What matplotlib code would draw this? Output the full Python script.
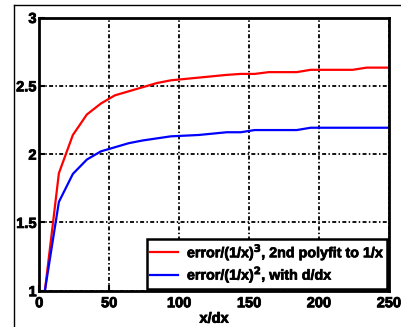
import matplotlib
matplotlib.use("Agg")
import matplotlib.pyplot as plt
from matplotlib.lines import Line2D
import matplotlib.patheffects as pe

x_vals = [4, 14, 24, 34, 44, 54, 64, 74, 84, 94, 104, 114, 124, 134, 144, 154,
          164, 174, 184, 194, 204, 214, 224, 234, 244, 254]
red_vals = [1.0, 1.86, 2.14, 2.29, 2.37, 2.43, 2.46, 2.49, 2.52, 2.54, 2.55, 2.56,
            2.57, 2.58, 2.587, 2.587, 2.60, 2.60, 2.60, 2.617, 2.617, 2.617, 2.617,
            2.633, 2.633, 2.633]
blue_vals = [1.0, 1.65, 1.855, 1.96, 2.02, 2.05, 2.08, 2.10, 2.115, 2.13, 2.135, 2.14,
             2.15, 2.16, 2.16, 2.176, 2.176, 2.176, 2.176, 2.193, 2.193, 2.193, 2.193,
             2.193, 2.193, 2.193]
red_label = "error/(1/x)$^3$, 2nd polyfit to 1/x"
blue_label = "error/(1/x)$^2$, with d/dx"
x_ticks = [0, 50, 100, 150, 200, 250]
y_ticks = [1, 1.5, 2, 2.5, 3]
y_ticklabels = ["1", "1.5", "2", "2.5", "3"]

plt.rcParams['font.family'] = ['Liberation Sans', 'DejaVu Sans']
plt.rcParams['font.weight'] = 'bold'
plt.rcParams['mathtext.default'] = 'bf'

thick = [pe.withStroke(linewidth=0.6, foreground='black')]

fig = plt.figure(figsize=(4.02, 3.27), dpi=100)
ax = fig.add_axes([39.3/402, 1-290.7/327, (389-39.3)/402, (290.7-17.5)/327])

ax.plot(x_vals, red_vals, color='#ff0000', lw=1.6, label=red_label, clip_on=True)
ax.plot(x_vals, blue_vals, color='#0000ff', lw=1.6, label=blue_label, clip_on=True)

ax.set_xlim(0, 250)
ax.set_ylim(1, 3)
ax.set_xticks(x_ticks)
ax.set_yticks(y_ticks)
ax.set_yticklabels(y_ticklabels)
ax.grid(True, color='black', lw=1.3, linestyle=(0, (2.2, 1.3, 0.8, 1.3)))
ax.tick_params(direction='in', length=4, width=1.5, labelsize=10.5)
ax.tick_params(axis='x', pad=4)
ax.tick_params(axis='y', pad=2)
for lab in ax.get_xticklabels() + ax.get_yticklabels():
    lab.set_fontweight('bold')
    lab.set_path_effects(thick)
for s in ax.spines.values():
    s.set_linewidth(2)
xl = ax.set_xlabel("x/dx", fontsize=10.5, fontweight='bold', labelpad=1)
xl.set_path_effects(thick)

leg = ax.legend(loc='lower right', fontsize=10.3, frameon=True, fancybox=False,
                edgecolor='black', framealpha=1, borderpad=0.2, handlelength=2.0,
                handletextpad=0.6, labelspacing=0.05, borderaxespad=0.15)
leg.get_frame().set_linewidth(1.8)
for t in leg.get_texts():
    t.set_fontweight('bold')
    t.set_path_effects([pe.withStroke(linewidth=0.5, foreground='black')])

# outer frame lines
fig.add_artist(Line2D([14.5/402, 1.0], [1-5.3/327, 1-5.3/327], color='black', lw=1.0,
                      transform=fig.transFigure))
fig.add_artist(Line2D([14.5/402, 14.5/402], [0.0, 1-5.3/327], color='black', lw=1.0,
                      transform=fig.transFigure))

fig.savefig("out.png", dpi=100)
